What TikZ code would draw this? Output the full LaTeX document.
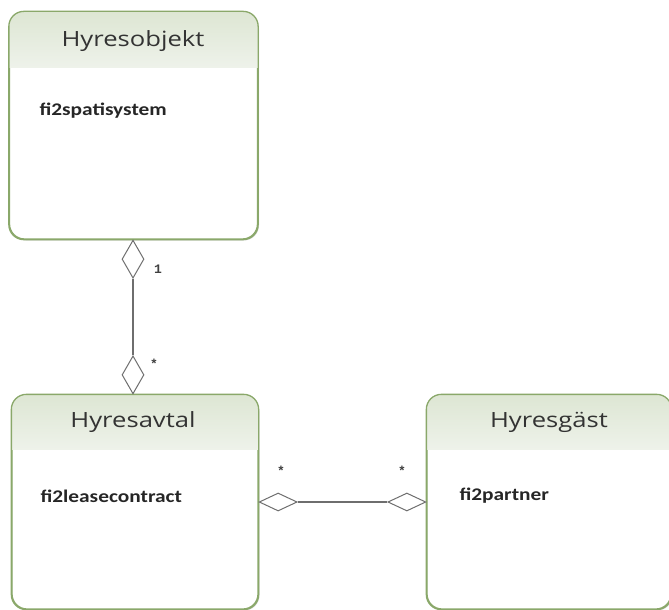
\documentclass[tikz,border=0pt]{standalone}
\usepackage{fontspec}
\setmainfont{Carlito}
\newfontfamily\titlefont[FakeStretch=1.22]{Open Sans}
\newfontfamily\bodyfont[FakeStretch=1.2]{Carlito}
\newfontfamily\multfont{Liberation Mono}
\usetikzlibrary{shapes.geometric,shadows}
\definecolor{boxline}{HTML}{8AA86A}
\definecolor{headtop}{HTML}{DDE6D3}
\definecolor{headbot}{HTML}{EEF2EA}
\definecolor{conn}{HTML}{6E6E6E}
\definecolor{txt}{HTML}{333333}
\tikzset{
  classbox/.style={draw=boxline, line width=1.3pt, rounded corners=15pt, inner sep=0,
    drop shadow={shadow xshift=1.5pt, shadow yshift=-1.5pt, opacity=0.25}, fill=white},
  titletext/.style={font=\titlefont\fontsize{21}{24}\selectfont, text=txt},
  bodytext/.style={font=\bodyfont\bfseries\fontsize{17.8}{20}\selectfont, text=black!85, anchor=west},
  agg/.style={diamond, draw=conn, line width=1pt, fill=white, inner sep=0, aspect=1},
  vagg/.style={agg, minimum width=22pt, minimum height=38pt},
  hagg/.style={agg, minimum width=38pt, minimum height=18pt},
  mult/.style={font=\multfont\bfseries\fontsize{13}{15}\selectfont, text=black!75},
  link/.style={draw=conn, line width=1.3pt}
}
\begin{document}
\begin{tikzpicture}[x=1pt,y=-1pt]
\useasboundingbox (0,0) rectangle (669,610);
\clip (0,0) rectangle (669,610);
% boxes
\node[classbox, minimum width=248pt, minimum height=227pt] (obj) at (133.5,125.5) {};
\node[classbox, minimum width=246pt, minimum height=214pt] (avt) at (135,502) {};
\node[classbox, minimum width=244pt, minimum height=214pt] (gst) at (549,502) {};
% headers
\foreach \b/\h in {obj/56, avt/55, gst/55}{
  \begin{scope}
    \clip[rounded corners=15pt] (\b.north west) rectangle (\b.south east);
    \shade[top color=headtop, bottom color=headbot] (\b.north west) rectangle ([yshift=-\h pt]\b.north east);
  \end{scope}
  \draw[draw=boxline, line width=1.3pt, rounded corners=15pt] (\b.north west) rectangle (\b.south east);
}
% titles
\node[titletext] (tobj) at (133,41) {Hyresobjekt};
\node[titletext] (tavt) at (133,422) {Hyresavtal};
\node[titletext] (tgst) at (549,422) {Hyresgäst};
% attributes
\node[bodytext] (aobj) at (36,111) {fi2spatisystem};
\node[bodytext] (aavt) at (37,496) {fi2leasecontract};
\node[bodytext] (agst) at (456,496) {fi2partner};
% aggregation diamonds
\node[vagg, anchor=north] (d1) at (obj.south -| 133,0) {};
\node[vagg, anchor=south] (d2) at (avt.north -| 133,0) {};
\node[hagg, anchor=west] (d3) at (avt.east |- 0,502) {};
\node[hagg, anchor=east] (d4) at (gst.west |- 0,502) {};
% connectors
\draw[link] (d1.south) -- (d2.north);
\draw[link] (d3.east) -- (d4.west);
% multiplicities
\node[mult] (m1) at (158,269) {1};
\node[mult] (m2) at (154,364) {*};
\node[mult] (m3) at (281,471) {*};
\node[mult] (m4) at (402,471) {*};
\end{tikzpicture}
\end{document}
